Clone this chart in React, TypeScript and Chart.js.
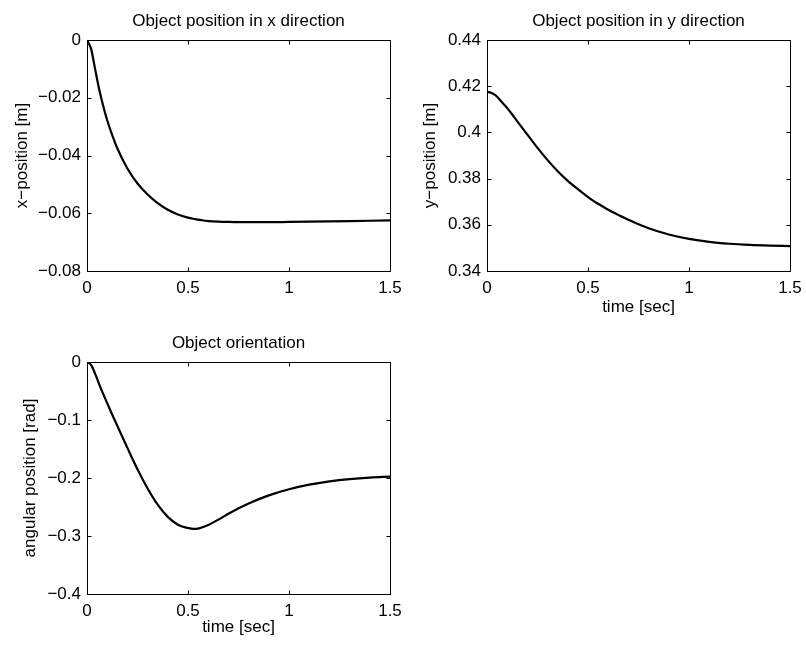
import React, { useEffect, useRef } from "react";
import { Chart, registerables } from "chart.js";

Chart.register(...registerables);

// ---- data ----
const time = [
  0, 0.02, 0.04, 0.06, 0.08, 0.1, 0.12, 0.15, 0.2, 0.25, 0.3, 0.35, 0.4, 0.45,
  0.5, 0.525, 0.55, 0.575, 0.6, 0.65, 0.7, 0.8, 0.9, 1.0, 1.1, 1.2, 1.3, 1.4, 1.5,
];

const xPosition = [
  0, -0.003, -0.01, -0.017, -0.0228, -0.0278, -0.032, -0.0375, -0.0445, -0.0497,
  -0.0535, -0.0565, -0.0588, -0.0604, -0.0615, -0.0619, -0.0622, -0.0625, -0.0627,
  -0.0629, -0.063, -0.0631, -0.0631, -0.063, -0.0629, -0.0628, -0.0627, -0.0626,
  -0.0625,
];

const yPosition = [
  0.4175, 0.4172, 0.4162, 0.4145, 0.4125, 0.4105, 0.4083, 0.4048, 0.399, 0.3933,
  0.388, 0.3832, 0.379, 0.3754, 0.372, 0.3705, 0.3691, 0.3678, 0.3665, 0.3643,
  0.3622, 0.3585, 0.3558, 0.3539, 0.3526, 0.3518, 0.3513, 0.351, 0.3508,
];

const orientation = [
  0, -0.005, -0.02, -0.038, -0.055, -0.071, -0.087, -0.11, -0.148, -0.185,
  -0.218, -0.246, -0.267, -0.2805, -0.2862, -0.2878, -0.2872, -0.2845, -0.281,
  -0.2718, -0.2615, -0.244, -0.23, -0.2195, -0.2115, -0.2058, -0.2018, -0.1992,
  -0.1978,
];

const timeTicks = [0, 0.5, 1, 1.5];
const xPosTicks = [-0.08, -0.06, -0.04, -0.02, 0];
const yPosTicks = [0.34, 0.36, 0.38, 0.4, 0.42, 0.44];
const orientTicks = [-0.4, -0.3, -0.2, -0.1, 0];

const titles = [
  "Object position in x direction",
  "Object position in y direction",
  "Object orientation",
];
const yLabels = ["x\u2212position [m]", "y\u2212position [m]", "angular position [rad]"];
const xLabel = "time [sec]";

// ---- styling ----
const FAMILY = '"Liberation Sans", Arial, Helvetica, sans-serif';
const FS = 17;
const font = { family: FAMILY, size: FS };

const fmt = (v: number) => {
  const s = String(Math.round(Number(v) * 1000) / 1000);
  return s.replace("-", "\u2212");
};

const framePlugin = {
  id: "frame",
  afterDraw(chart: any, _args: any, opts: any) {
    const { ctx, chartArea: a, scales } = chart;
    const L = Math.round(a.left) + 0.5;
    const R = Math.round(a.right) + 0.5;
    const T = Math.round(a.top) + 0.5;
    const B = Math.round(a.bottom) + 0.5;
    ctx.save();
    ctx.strokeStyle = "#000";
    ctx.lineWidth = 1;
    ctx.strokeRect(L, T, R - L, B - T);
    const tl = 4;
    ctx.beginPath();
    for (const t of scales.x.ticks) {
      const px = Math.round(scales.x.getPixelForValue(t.value)) + 0.5;
      ctx.moveTo(px, B);
      ctx.lineTo(px, B - tl);
      ctx.moveTo(px, T);
      ctx.lineTo(px, T + tl);
    }
    for (const t of scales.y.ticks) {
      const py = Math.round(scales.y.getPixelForValue(t.value)) + 0.5;
      ctx.moveTo(L, py);
      ctx.lineTo(L + tl, py);
      ctx.moveTo(R, py);
      ctx.lineTo(R - tl, py);
    }
    ctx.stroke();
    if (opts && opts.title) {
      ctx.fillStyle = "#000";
      ctx.font = `${FS}px ${FAMILY}`;
      ctx.textAlign = "center";
      ctx.textBaseline = "middle";
      ctx.fillText(opts.title, (a.left + a.right) / 2, a.top - 19);
    }
    ctx.restore();
  },
};

type PanelSpec = {
  left: number;
  top: number;
  width: number;
  height: number;
  values: number[];
  yTicks: number[];
  title: string;
  yLabel: string;
  showX: boolean;
  yAxisW: number;
  padTop: number;
  padRight: number;
  xAxisH: number;
  yTitlePad: number;
  xTitlePad: number;
};

function Panel({ spec }: { spec: PanelSpec }) {
  const ref = useRef<HTMLCanvasElement | null>(null);
  useEffect(() => {
    if (!ref.current) return;
    const yMin = Math.min(...spec.yTicks);
    const yMax = Math.max(...spec.yTicks);
    const chart = new Chart(ref.current, {
      type: "line",
      data: {
        datasets: [
          {
            data: time.map((t, i) => ({ x: t, y: spec.values[i] })),
            borderColor: "#000",
            borderWidth: 2.2,
            pointRadius: 0,
            fill: false,
            cubicInterpolationMode: "monotone",
          },
        ],
      },
      options: {
        animation: false,
        responsive: false,
        events: [],
        layout: {
          padding: { left: 0, top: spec.padTop, right: spec.padRight, bottom: 0 },
        },
        plugins: {
          legend: { display: false },
          tooltip: { enabled: false },
          title: { display: false },
          frame: { title: spec.title },
        } as any,
        scales: {
          x: {
            type: "linear",
            min: 0,
            max: 1.5,
            afterBuildTicks: (s: any) => {
              s.ticks = timeTicks.map((v) => ({ value: v }));
            },
            afterFit: (s: any) => {
              s.height = spec.xAxisH;
              s.paddingLeft = 0;
              s.paddingRight = 0;
            },
            grid: { display: false, drawTicks: false, tickLength: 0 },
            border: { display: false },
            ticks: {
              padding: 7,
              font,
              color: "#000",
              maxRotation: 0,
              autoSkip: false,
              callback: (v: any) => fmt(v),
            },
            title: {
              display: spec.showX,
              text: xLabel,
              font,
              color: "#000",
              padding: { top: 0, bottom: spec.xTitlePad },
            },
          },
          y: {
            type: "linear",
            min: yMin,
            max: yMax,
            afterBuildTicks: (s: any) => {
              s.ticks = spec.yTicks.map((v) => ({ value: v }));
            },
            afterFit: (s: any) => {
              s.width = spec.yAxisW;
              s.paddingTop = 0;
              s.paddingBottom = 0;
            },
            grid: { display: false, drawTicks: false, tickLength: 0 },
            border: { display: false },
            ticks: {
              padding: 6,
              font,
              color: "#000",
              autoSkip: false,
              callback: (v: any) => fmt(v),
            },
            title: {
              display: true,
              text: spec.yLabel,
              font,
              color: "#000",
              padding: { top: spec.yTitlePad, bottom: 0 },
            },
          },
        },
      } as any,
      plugins: [framePlugin],
    });
    return () => chart.destroy();
  }, [spec]);
  return (
    <canvas
      ref={ref}
      width={spec.width}
      height={spec.height}
      style={{
        position: "absolute",
        left: spec.left,
        top: spec.top,
        width: spec.width,
        height: spec.height,
      }}
    />
  );
}

const panels: PanelSpec[] = [
  {
    left: 0, top: 0, width: 403, height: 322,
    values: xPosition, yTicks: xPosTicks, title: titles[0], yLabel: yLabels[0],
    showX: false, yAxisW: 87, padTop: 40, padRight: 13, xAxisH: 51,
    yTitlePad: 12, xTitlePad: 0,
  },
  {
    left: 403, top: 0, width: 403, height: 322,
    values: yPosition, yTicks: yPosTicks, title: titles[1], yLabel: yLabels[1],
    showX: true, yAxisW: 84, padTop: 40, padRight: 16, xAxisH: 51,
    yTitlePad: 17, xTitlePad: 4,
  },
  {
    left: 0, top: 322, width: 403, height: 323,
    values: orientation, yTicks: orientTicks, title: titles[2], yLabel: yLabels[2],
    showX: true, yAxisW: 87, padTop: 40, padRight: 13, xAxisH: 51,
    yTitlePad: 20, xTitlePad: 7,
  },
];

export default function App() {
  return (
    <div
      style={{
        position: "absolute",
        left: 0,
        top: 0,
        width: 806,
        height: 645,
        background: "#fff",
      }}
    >
      {panels.map((p, i) => (
        <Panel key={i} spec={p} />
      ))}
    </div>
  );
}
